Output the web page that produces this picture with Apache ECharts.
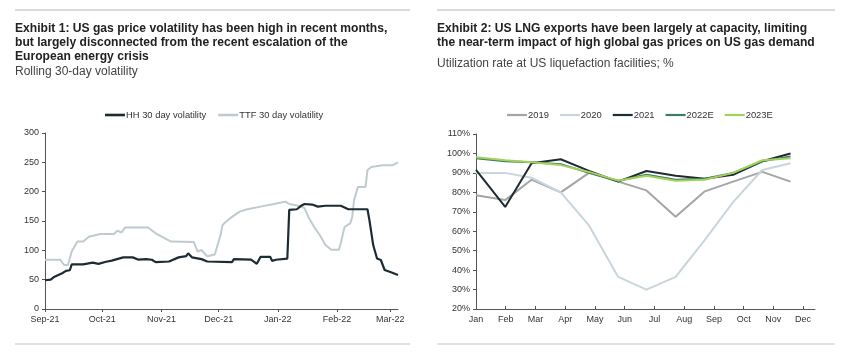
<!DOCTYPE html>
<html><head><meta charset="utf-8">
<script src="https://cdn.jsdelivr.net/npm/echarts@6/dist/echarts.min.js"></script>
<style>html,body{margin:0;padding:0;background:#fff}#c{width:845px;height:355px}</style>
</head><body><div id="c"></div>
<script>
// ---------- Exhibit 1 data ----------
const hhDates = ['2021-09-01','2021-09-04','2021-09-06','2021-09-10','2021-09-12','2021-09-14','2021-09-15','2021-09-21','2021-09-26','2021-09-29','2021-10-03','2021-10-06','2021-10-12','2021-10-17','2021-10-20','2021-10-24','2021-10-27','2021-10-29','2021-11-05','2021-11-10','2021-11-14','2021-11-15','2021-11-17','2021-11-22','2021-11-25','2021-12-08','2021-12-09','2021-12-18','2021-12-21','2021-12-23','2021-12-28','2021-12-29','2021-12-31','2022-01-06','2022-01-07','2022-01-11','2022-01-13','2022-01-15','2022-01-19','2022-01-22','2022-01-26','2022-02-03','2022-02-07','2022-02-17','2022-02-18','2022-02-20','2022-02-22','2022-02-24','2022-02-26','2022-03-01','2022-03-05'];
const hhValues = [49,50,55,61,65,66,76,76,79,77,80.5,82.5,88,88,84,85,84,80,81,88,90,95,88,85,81,80,85,84,77,89,89,82,84,86,169,170,175.5,179,178,174.5,176,176,170,170,152,109,86,83.5,66.5,63,58];
const ttfDates = ['2021-09-01','2021-09-09','2021-09-11','2021-09-13','2021-09-15','2021-09-18','2021-09-21','2021-09-24','2021-09-30','2021-10-07','2021-10-09','2021-10-11','2021-10-13','2021-10-25','2021-10-29','2021-11-06','2021-11-18','2021-11-20','2021-11-22','2021-11-25','2021-11-29','2021-12-02','2021-12-03','2021-12-05','2021-12-08','2021-12-12','2021-12-16','2021-12-23','2021-12-30','2022-01-05','2022-01-07','2022-01-13','2022-01-15','2022-01-17','2022-01-20','2022-01-23','2022-01-26','2022-01-29','2022-02-02','2022-02-03','2022-02-05','2022-02-08','2022-02-09','2022-02-10','2022-02-12','2022-02-16','2022-02-17','2022-02-19','2022-02-25','2022-03-02','2022-03-05'];
const ttfValues = [84,84,75,75,98,115,115,123,128,128,133.5,130,139,139,129,115,114,98,100.5,90,93,126,143,149,157,166,170,174.5,179,183,179,175,172,157,140,126,109,101,101,112,140,146,157,186,208,208,237,242,245,245,250];
const leftTickDates = ['2021-09-01','2021-10-01','2021-11-01','2021-12-01','2022-01-01','2022-02-01','2022-03-01'];
const leftTickLabels = ['Sep-21','Oct-21','Nov-21','Dec-21','Jan-22','Feb-22','Mar-22'];

// ---------- Exhibit 2 data ----------
const months = ['Jan','Feb','Mar','Apr','May','Jun','Jul','Aug','Sep','Oct','Nov','Dec'];
const monthStarts = ['2019-01-01','2019-02-01','2019-03-01','2019-04-01','2019-05-01','2019-06-01','2019-07-01','2019-08-01','2019-09-01','2019-10-01','2019-11-01','2019-12-01'];
const s2019 = [78.5,76,86.5,80,90,85.5,81,67.5,80.5,85.5,90.5,85.5];
const s2020 = [90,90,87.5,80,63,36.5,30,36.5,55.5,75,91.5,95];
const s2021 = [91.5,72.5,95,97,91,85.5,91,88.5,87,89,96,100];
const s2022E = [97.5,96,95.5,94.5,90,86,89,86.5,87,90,96,98.5];
const s2023E = [98,96.5,95.5,94,90.5,86,88.5,86,86.5,90,96.5,97.5];

const T = s => Date.UTC(+s.slice(0,4), +s.slice(5,7) - 1, +s.slice(8,10));
const zip = (d, v) => d.map((x, i) => [T(x), v[i]]);
const leftTicks = leftTickDates.map(T);

const FONT = "'Liberation Sans', Arial, sans-serif";
const axisCol = '#555';
const lblStyle = {color: '#333', fontSize: 9, fontFamily: FONT};
const titleStyle = {fontFamily: FONT, fontWeight: 'bold', fontSize: 12.1, lineHeight: 14.4, color: '#222'};
const subStyle = {fontFamily: FONT, fontSize: 12, color: '#444', lineHeight: 14};
const legendText = {fontSize: 9.4, color: '#333', fontFamily: FONT, padding: [0,0,0,-4]};

const chart = echarts.init(document.getElementById('c'), null, {renderer: 'canvas'});
chart.setOption({
  animation: false,
  backgroundColor: '#fff',
  title: [
    {left: 15, top: 21, padding: 0, itemGap: 0.5,
     text: 'Exhibit 1: US gas price volatility has been high in recent months,\nbut largely disconnected from the recent escalation of the\nEuropean energy crisis',
     subtext: 'Rolling 30-day volatility',
     textStyle: titleStyle, subtextStyle: subStyle},
    {left: 437, top: 21, padding: 0, itemGap: 6.5,
     text: 'Exhibit 2: US LNG exports have been largely at capacity, limiting\nthe near-term impact of high global gas prices on US gas demand',
     subtext: 'Utilization rate at US liquefaction facilities; %',
     textStyle: titleStyle, subtextStyle: subStyle}
  ],
  legend: [
    {left: 105, top: 110.5, padding: 0, icon: 'rect', itemWidth: 20, itemHeight: 2.6, itemGap: 12,
     textStyle: legendText, data: ['HH 30 day volatility', 'TTF 30 day volatility']},
    {left: 507, top: 110.5, padding: 0, icon: 'rect', itemWidth: 20, itemHeight: 2.2, itemGap: 11,
     textStyle: legendText, data: ['2019','2020','2021','2022E','2023E']}
  ],
  grid: [
    {left: 45, top: 133, width: 353, height: 176, containLabel: false},
    {left: 476, top: 134, width: 339, height: 175, containLabel: false}
  ],
  xAxis: [
    {type: 'value', gridIndex: 0, min: T('2021-09-01'), max: T('2022-03-05'),
     axisLine: {lineStyle: {color: axisCol, width: 1}},
     axisTick: {show: true, length: 3, customValues: leftTicks, lineStyle: {color: axisCol}},
     axisLabel: Object.assign({}, lblStyle, {margin: 6, customValues: leftTicks,
       formatter: v => leftTickLabels[leftTicks.indexOf(+v)] || ''}),
     splitLine: {show: false}},
    {type: 'value', gridIndex: 1, min: 0, max: 11.4, interval: 1,
     axisLine: {lineStyle: {color: axisCol, width: 1}},
     axisTick: {show: true, inside: true, length: 3, lineStyle: {color: axisCol}},
     axisLabel: Object.assign({}, lblStyle, {margin: 6, showMaxLabel: false,
       formatter: v => months[Math.round(v)] || ''}),
     splitLine: {show: false}},
    {type: 'value', gridIndex: 1, show: false, min: T('2019-01-01'), max: T('2019-12-27'),
     splitLine: {show: false}}
  ],
  yAxis: [
    {type: 'value', gridIndex: 0, min: 0, max: 300, interval: 50,
     axisLine: {show: true, lineStyle: {color: axisCol, width: 1}},
     axisTick: {show: true, length: 3, lineStyle: {color: axisCol}},
     axisLabel: Object.assign({}, lblStyle, {margin: 6}),
     splitLine: {show: false}},
    {type: 'value', gridIndex: 1, min: 20, max: 110, interval: 10,
     axisLine: {show: true, lineStyle: {color: axisCol, width: 1}},
     axisTick: {show: true, length: 3, lineStyle: {color: axisCol}},
     axisLabel: Object.assign({}, lblStyle, {margin: 6, formatter: '{value}%'}),
     splitLine: {show: false}}
  ],
  series: [
    {name: 'TTF 30 day volatility', type: 'line', xAxisIndex: 0, yAxisIndex: 0, symbol: 'none',
     lineStyle: {color: '#bfcbcf', width: 2}, itemStyle: {color: '#bfcbcf'}, data: zip(ttfDates, ttfValues), z: 2},
    {name: 'HH 30 day volatility', type: 'line', xAxisIndex: 0, yAxisIndex: 0, symbol: 'none',
     lineStyle: {color: '#1d2b33', width: 2.2}, itemStyle: {color: '#1d2b33'}, data: zip(hhDates, hhValues), z: 3},
    {name: '2019', type: 'line', xAxisIndex: 2, yAxisIndex: 1, symbol: 'none',
     lineStyle: {color: '#a5a5a5', width: 2}, itemStyle: {color: '#a5a5a5'}, data: zip(monthStarts, s2019)},
    {name: '2020', type: 'line', xAxisIndex: 2, yAxisIndex: 1, symbol: 'none',
     lineStyle: {color: '#c9d5dc', width: 2}, itemStyle: {color: '#c9d5dc'}, data: zip(monthStarts, s2020)},
    {name: '2021', type: 'line', xAxisIndex: 2, yAxisIndex: 1, symbol: 'none',
     lineStyle: {color: '#1d2b33', width: 2}, itemStyle: {color: '#1d2b33'}, data: zip(monthStarts, s2021)},
    {name: '2022E', type: 'line', xAxisIndex: 2, yAxisIndex: 1, symbol: 'none',
     lineStyle: {color: '#3e7c61', width: 2}, itemStyle: {color: '#3e7c61'}, data: zip(monthStarts, s2022E)},
    {name: '2023E', type: 'line', xAxisIndex: 2, yAxisIndex: 1, symbol: 'none',
     lineStyle: {color: '#a3d15c', width: 2}, itemStyle: {color: '#a3d15c'}, data: zip(monthStarts, s2023E)}
  ],
  graphic: [
    {type: 'line', shape: {x1: 15, y1: 10, x2: 410, y2: 10}, style: {stroke: '#cfcfcf', lineWidth: 1.5}},
    {type: 'line', shape: {x1: 437, y1: 10, x2: 835, y2: 10}, style: {stroke: '#cfcfcf', lineWidth: 1.5}},
    {type: 'line', shape: {x1: 15, y1: 344, x2: 410, y2: 344}, style: {stroke: '#d8d8d8', lineWidth: 1.5}},
    {type: 'line', shape: {x1: 437, y1: 344, x2: 835, y2: 344}, style: {stroke: '#d8d8d8', lineWidth: 1.5}}
  ]
});
</script></body></html>
